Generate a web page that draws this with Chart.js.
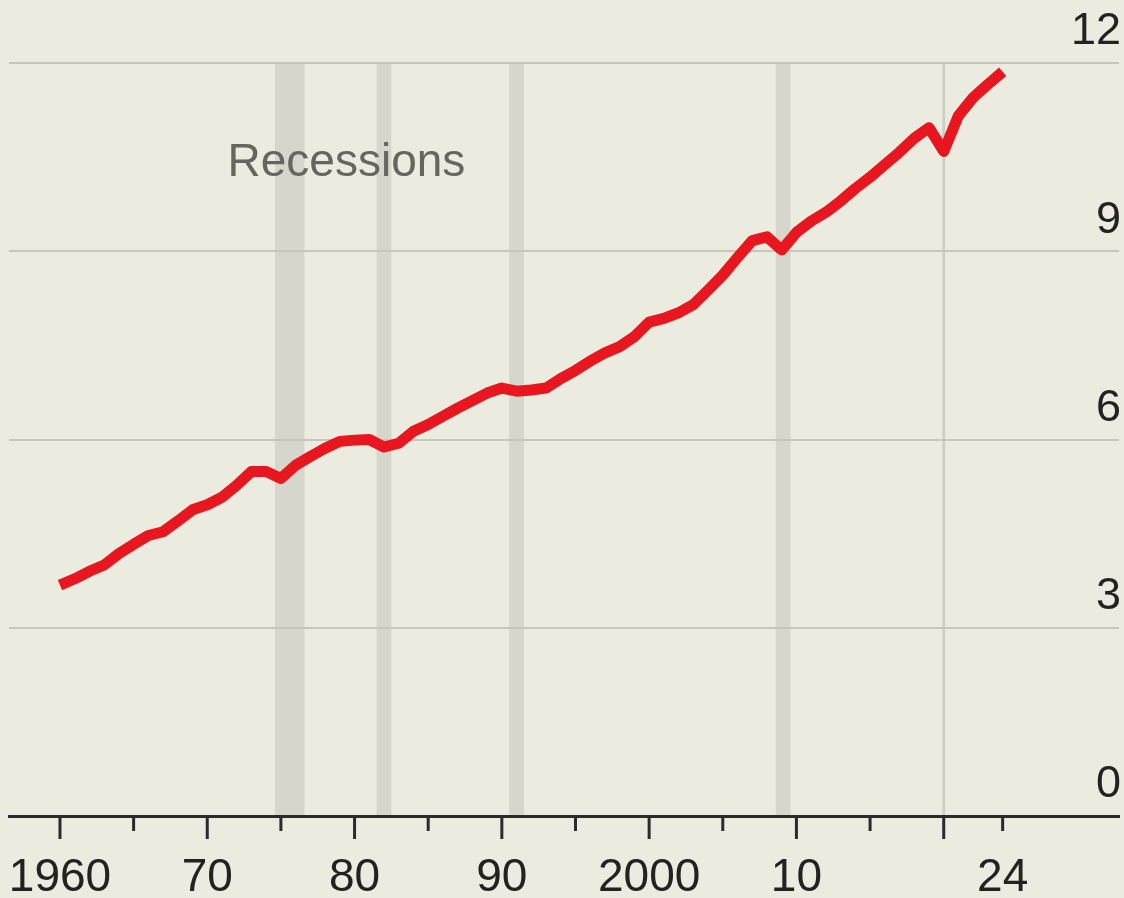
<!DOCTYPE html>
<html>
<head>
<meta charset="utf-8">
<script src="https://cdn.jsdelivr.net/npm/chart.js@4.4.1/dist/chart.umd.min.js"></script>
<style>
  html, body { margin: 0; padding: 0; background: #ebebe0; }
  #wrap { width: 1124px; height: 898px; }
</style>
</head>
<body>
<div id="wrap"><canvas id="chart" width="1124" height="898"></canvas></div>
<script>
const years = [
    1960, 1961, 1962, 1963, 1964, 1965, 1966, 1967, 1968, 1969,
    1970, 1971, 1972, 1973, 1974, 1975, 1976, 1977, 1978, 1979,
    1980, 1981, 1982, 1983, 1984, 1985, 1986, 1987, 1988, 1989,
    1990, 1991, 1992, 1993, 1994, 1995, 1996, 1997, 1998, 1999,
    2000, 2001, 2002, 2003, 2004, 2005, 2006, 2007, 2008, 2009,
    2010, 2011, 2012, 2013, 2014, 2015, 2016, 2017, 2018, 2019,
    2020, 2021, 2022, 2023, 2024
];
const values = [
    3.68, 3.78, 3.90, 4.00, 4.18, 4.33, 4.47, 4.53, 4.70, 4.88,
    4.96, 5.08, 5.27, 5.49, 5.49, 5.38, 5.59, 5.73, 5.86, 5.97,
    5.99, 6.00, 5.88, 5.94, 6.13, 6.24, 6.37, 6.50, 6.62, 6.74,
    6.82, 6.77, 6.79, 6.82, 6.97, 7.10, 7.25, 7.38, 7.48, 7.64,
    7.87, 7.93, 8.02, 8.15, 8.38, 8.62, 8.90, 9.17, 9.23, 9.02,
    9.30, 9.48, 9.62, 9.80, 10.00, 10.18, 10.38, 10.58, 10.80, 10.97,
    10.59, 11.16, 11.45, 11.66, 11.86
];

// recession shading (start, end in years)
const recessionStart = [1974.6, 1981.5, 1990.5, 2008.6];
const recessionEnd   = [1976.6, 1982.5, 1991.5, 2009.6];
const covidLine = 2020;

const labelYears = [1960, 1970, 1980, 1990, 2000, 2010, 2024];
const labelText  = ['1960', '70', '80', '90', '2000', '10', '24'];
const majorTicks = [1960, 1970, 1980, 1990, 2000, 2010, 2020];
const minorTicks = [1965, 1975, 1985, 1995, 2005, 2015, 2024];
const yTicks = [0, 3, 6, 9, 12];

const FONT = '"Liberation Sans Narrow", "Liberation Sans", Arial, sans-serif';

const backdrop = {
    id: 'backdrop',
    beforeDraw(chart) {
        const ctx = chart.ctx;
        const x = chart.scales.x, y = chart.scales.y;
        ctx.save();
        ctx.fillStyle = '#ebebe0';
        ctx.fillRect(0, 0, chart.width, chart.height);
        const top = y.getPixelForValue(12);
        const bottom = y.getPixelForValue(0);
        ctx.fillStyle = '#d6d6cc';
        for (let i = 0; i < recessionStart.length; i++) {
            const x0 = x.getPixelForValue(recessionStart[i]);
            const x1 = x.getPixelForValue(recessionEnd[i]);
            ctx.fillRect(x0, top, x1 - x0, bottom - top);
        }
        ctx.strokeStyle = '#cfcfc4';
        ctx.lineWidth = 3;
        const cx = x.getPixelForValue(covidLine);
        ctx.beginPath();
        ctx.moveTo(cx, top);
        ctx.lineTo(cx, bottom);
        ctx.stroke();
        ctx.restore();
    },
    afterDraw(chart) {
        const ctx = chart.ctx;
        const x = chart.scales.x, y = chart.scales.y;
        const base = y.getPixelForValue(0);
        ctx.save();
        ctx.strokeStyle = '#2b2b2b';
        ctx.lineWidth = 3;
        majorTicks.forEach(t => {
            const px = x.getPixelForValue(t);
            ctx.beginPath();
            ctx.moveTo(px, base);
            ctx.lineTo(px, base + 23);
            ctx.stroke();
        });
        minorTicks.forEach(t => {
            const px = x.getPixelForValue(t);
            ctx.beginPath();
            ctx.moveTo(px, base);
            ctx.lineTo(px, base + 15);
            ctx.stroke();
        });
        // annotation
        ctx.fillStyle = '#666660';
        ctx.font = '46px ' + FONT;
        ctx.textAlign = 'center';
        ctx.textBaseline = 'alphabetic';
        ctx.fillText('Recessions', x.getPixelForValue(1979.45), y.getPixelForValue(10.2));
        ctx.restore();
    }
};

const ctx = document.getElementById('chart').getContext('2d');
const chart = new Chart(ctx, {
    type: 'line',
    data: {
        datasets: [{
            data: years.map((yr, i) => ({ x: yr, y: values[i] })),
            borderColor: '#e8161e',
            borderWidth: 11,
            borderJoinStyle: 'round',
            pointRadius: 0,
            fill: false,
            tension: 0
        }]
    },
    options: {
        responsive: false,
        animation: false,
        layout: {
            padding: { top: 63, right: 0, left: 9, bottom: 0 }
        },
        plugins: {
            legend: { display: false },
            tooltip: { enabled: false }
        },
        scales: {
            x: {
                type: 'linear',
                min: 1956.54,
                max: 2031.9,
                afterBuildTicks(scale) {
                    scale.ticks = labelYears.map(v => ({ value: v }));
                },
                afterFit(scale) {
                    scale.height = 82;
                    scale.paddingLeft = 0;
                    scale.paddingRight = 0;
                },
                grid: {
                    drawOnChartArea: false,
                    drawTicks: true,
                    tickLength: 23,
                    tickColor: 'rgba(0,0,0,0)'
                },
                border: { display: true, color: '#2b2b2b', width: 3 },
                ticks: {
                    autoSkip: false,
                    maxRotation: 0,
                    padding: 12,
                    color: '#222222',
                    font: { family: FONT, size: 46 },
                    callback(value) {
                        const i = labelYears.indexOf(value);
                        return i >= 0 ? labelText[i] : '';
                    }
                }
            },
            y: {
                position: 'right',
                min: 0,
                max: 12,
                afterBuildTicks(scale) {
                    scale.ticks = yTicks.map(v => ({ value: v }));
                },
                afterFit(scale) {
                    scale.width = 5;
                    scale.paddingTop = 0;
                    scale.paddingBottom = 0;
                },
                grid: {
                    color: '#c6c6ba',
                    lineWidth: 2,
                    drawTicks: false
                },
                border: { display: false },
                ticks: {
                    mirror: true,
                    padding: 2,
                    labelOffset: -31,
                    color: '#222222',
                    font: { family: FONT, size: 45 }
                }
            }
        }
    },
    plugins: [backdrop]
});
</script>
</body>
</html>
